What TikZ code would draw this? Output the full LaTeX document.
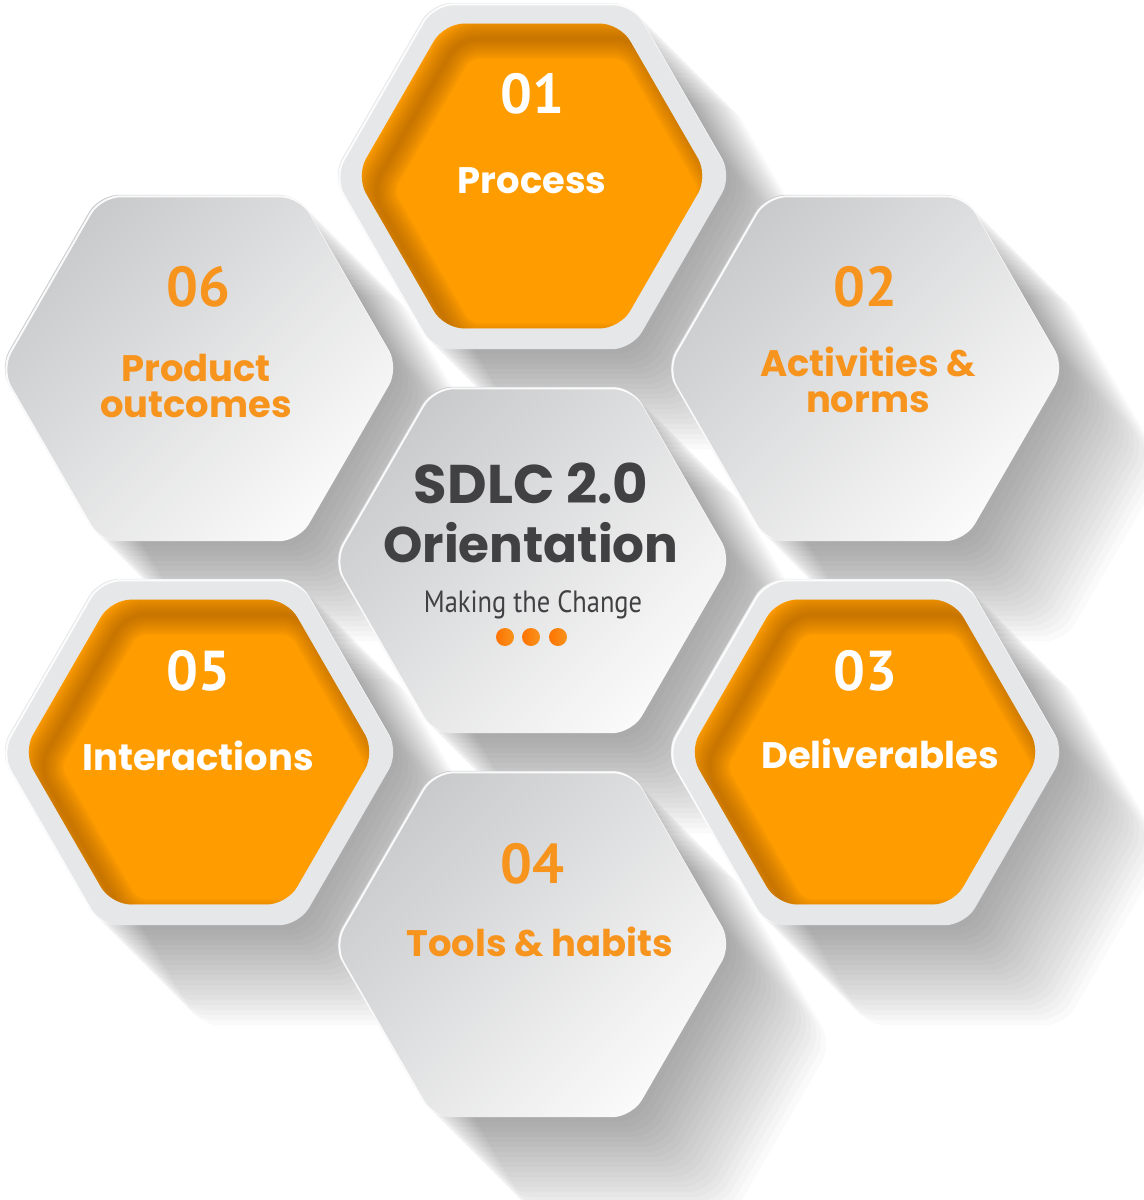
\documentclass[tikz,border=0pt]{standalone}
\usepackage{fontspec}
\setmainfont{Poppins}
\newfontfamily\narrowfont[FakeStretch=0.86]{PT Sans}
\newfontfamily\digitfont{PT Sans}
\definecolor{hexdark}{HTML}{C9CACC}
\definecolor{hexlight}{HTML}{FAFAFA}
\definecolor{ringgray}{HTML}{E6E7E8}
\definecolor{orangefill}{HTML}{FE9C00}
\definecolor{orangeshade}{HTML}{A05A00}
\definecolor{orangetext}{HTML}{F7941D}
\definecolor{titlegray}{HTML}{414042}
\tikzset{
    hex/.style={insert path={+(0:#1) -- +(60:#1) -- +(120:#1) -- +(180:#1) -- +(240:#1) -- +(300:#1) -- cycle}},
    soft/.style={rounded corners=0.4cm},
    grayhex/.style={soft, top color=hexdark, bottom color=hexlight, shading angle=45},
    numtext/.style={anchor=base, inner sep=0pt, font=\digitfont\bfseries\fontsize{32}{32}\selectfont},
    labtext/.style={anchor=base, inner sep=0pt, align=center, font=\bfseries\fontsize{21}{20}\selectfont},
}
\begin{document}
\begin{tikzpicture}[x=0.02cm, y=-0.02cm]
    \useasboundingbox (0,0) rectangle (1143,1200);
    %centres of the honeycomb
    \coordinate (core) at (532,560);
    \coordinate (h1) at (532,176);
    \coordinate (h2) at (865,368);
    \coordinate (h3) at (865,752);
    \coordinate (h4) at (532,944);
    \coordinate (h5) at (199,752);
    \coordinate (h6) at (199,368);
    %long shadows
    \foreach \c in {core,h1,h2,h3,h4,h5,h6}
        \foreach \s in {1,...,20}
            \fill[soft, black, opacity=0.018] ([shift={(\s*5,\s*5)}]\c) [hex=200];
    %gray cells
    \foreach \c in {core,h2,h4,h6}
        \shade[grayhex] (\c) [hex=200];
    %orange cells with a gray ring
    \foreach \c in {h1,h3,h5} {
        \fill[soft, ringgray] (\c) [hex=200];
        \begin{scope}
            \clip[soft] (\c) [hex=176];
            \fill[orangefill] (\c) [hex=190];
            \foreach \w in {4,8,...,40}
                \draw[soft, orangeshade, opacity=0.07, line width=\w*0.02cm] ([shift={(15,15)}]\c) [hex=176];
        \end{scope}
    }
    %thin light rim on the upper left edges
    \foreach \c in {core,h1,h2,h3,h4,h5,h6} {
        \begin{scope}
            \clip[soft] (\c) [hex=200];
            \draw[soft, white, opacity=0.9, line width=0.04cm] ([shift={(1.5,1.5)}]\c) [hex=200];
        \end{scope}
    }
    %numbers
    \node[numtext, white] (n1) at (532,113) {01};
    \node[numtext, orangetext] (n2) at (865,306) {02};
    \node[numtext, white] (n3) at (865,690) {03};
    \node[numtext, orangetext] (n4) at (532,883) {04};
    \node[numtext, white] (n5) at (198,690) {05};
    \node[numtext, orangetext] (n6) at (198,306) {06};
    %labels
    \node[labtext, white] (l1) at (532,193) {Process};
    \node[labtext, orangetext] (l2) at (868,412) {Activities \&\\norms};
    \node[labtext, white] (l3) at (880,768) {Deliverables};
    \node[labtext, orangetext] (l4) at (540,956) {Tools \& habits};
    \node[labtext, white] (l5) at (198,770) {Interactions};
    \node[labtext, orangetext] (l6) at (196,417) {Product\\outcomes};
    %centre text
    \node[anchor=base, inner sep=0pt, titlegray, font=\bfseries\fontsize{31}{31}\selectfont] (title) at (531,503) {SDLC 2.0};
    \node[anchor=base, inner sep=0pt, titlegray, font=\bfseries\fontsize{28.5}{28.5}\selectfont] (orient) at (531,562) {Orientation};
    \node[anchor=base, inner sep=0pt, titlegray, font=\narrowfont\fontsize{17.5}{17.5}\selectfont] (sub) at (533,612) {Making the Change};
    \foreach \x in {505,531,558}
        \shade[left color=orange!90!red, right color=orangetext] (\x,637) circle (9);
\end{tikzpicture}
\end{document}
